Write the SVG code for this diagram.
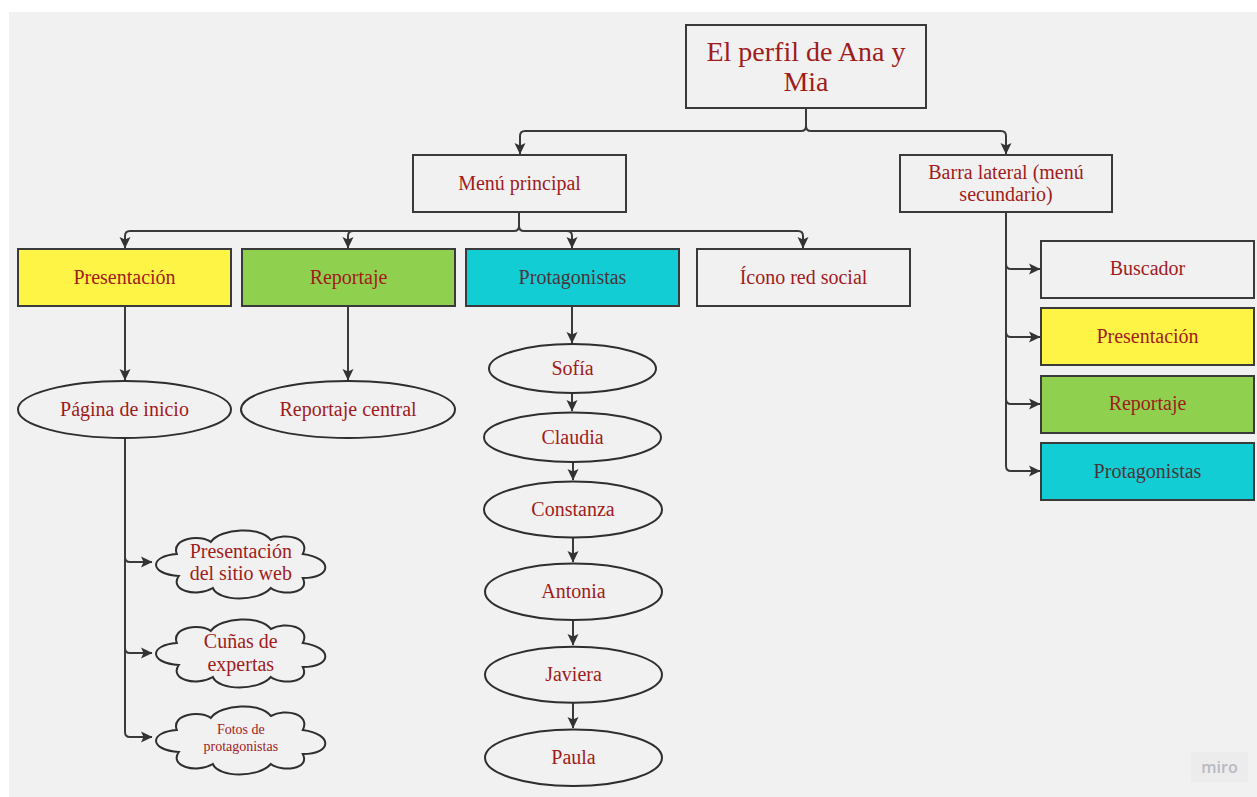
<svg xmlns="http://www.w3.org/2000/svg" width="1257" height="797" viewBox="0 0 1257 797">
<style>
.box{fill:none;stroke:#3a3a3a;stroke-width:2}
.yel{fill:#fef445;stroke:#3a3a3a;stroke-width:2}
.grn{fill:#8fd14f;stroke:#3a3a3a;stroke-width:2}
.cyn{fill:#12cdd4;stroke:#3a3a3a;stroke-width:2}
.ell{fill:#f1f1f1;stroke:#2e2e2e;stroke-width:2}
.t{font-family:Georgia,"Liberation Serif",serif;font-size:20px;fill:#a01c1c;text-anchor:middle}
.tc{fill:#4a3538}
.big{font-size:28px}
.sm{font-size:14px}
.con{fill:none;stroke:#3a3a3a;stroke-width:2;marker-end:url(#ah)}
.con2{fill:none;stroke:#3a3a3a;stroke-width:2}
</style>
<defs>
<marker id="ah" markerUnits="userSpaceOnUse" markerWidth="12" markerHeight="12" refX="11" refY="6" orient="auto" viewBox="0 0 12 12">
<path d="M0,0.5 L11.5,6 L0,11.5 L2.5,6 Z" fill="#333"/>
</marker>
<path id="cloud" d="M-64,-10 C-70,-26 -40,-30 -30,-22 C-20,-36 20,-38 30,-24 C45,-32 70,-26 62,-10 C92,-6 92,14 62,14 C70,30 40,32 30,24 C18,38 -22,38 -28,24 C-45,34 -72,26 -62,12 C-92,10 -92,-8 -64,-10 Z"/>
</defs>
<rect x="0" y="0" width="1257" height="797" fill="#ffffff"/>
<rect x="9" y="12" width="1248" height="785" fill="#f1f1f1"/>

<g id="connectors">
<path class="con2" d="M806,108 V126 Q806,131 801,131 H525 Q520,131 520,136 V154"/>
<path class="con" d="M520,136 V154"/>
<path class="con" d="M806,126 Q806,131 811,131 H1001 Q1006,131 1006,136 V154"/>
<path class="con" d="M519,212 V226 Q519,231 514,231 H130 Q125,231 125,236 V248"/>
<path class="con" d="M353,231 Q348,231 348,236 V248"/>
<path class="con" d="M519,226 Q519,231 524,231 H567 Q572,231 572,236 V248"/>
<path class="con" d="M567,231 H798 Q803,231 803,236 V248"/>
<path class="con" d="M125,307 V380"/>
<path class="con" d="M348,307 V380"/>
<path class="con" d="M572,307 V343"/>
<path class="con" d="M572,393 V411"/>
<path class="con" d="M573,462 V480"/>
<path class="con" d="M573,538 V562"/>
<path class="con" d="M573,620 V645"/>
<path class="con" d="M573,703 V728"/>
<path class="con" d="M125,438 V557 Q125,562 130,562 H152"/>
<path class="con" d="M125,557 V648 Q125,653 130,653 H152"/>
<path class="con" d="M125,648 V732 Q125,737 130,737 H152"/>
<path class="con" d="M1006,212 V264 Q1006,269 1011,269 H1040"/>
<path class="con" d="M1006,264 V332 Q1006,337 1011,337 H1040"/>
<path class="con" d="M1006,332 V399 Q1006,404 1011,404 H1040"/>
<path class="con" d="M1006,399 V466 Q1006,471 1011,471 H1040"/>
</g>

<g id="title"><rect class="box" x="686" y="25" width="240" height="83"/>
<text class="t big" x="806" y="61">El perfil de Ana y</text><text class="t big" x="806" y="91">Mia</text></g>

<g id="menu"><rect class="box" x="413" y="155" width="213" height="57"/><text class="t" x="519.5" y="190">Menú principal</text></g>
<g id="barra"><rect class="box" x="900" y="155" width="212" height="57"/><text class="t" x="1006" y="179">Barra lateral (menú</text><text class="t" x="1006" y="201">secundario)</text></g>

<g id="presentacion"><rect class="yel" x="18" y="249" width="213" height="57"/><text class="t" x="124.5" y="284">Presentación</text></g>
<g id="reportaje"><rect class="grn" x="242" y="249" width="213" height="57"/><text class="t" x="348.5" y="284">Reportaje</text></g>
<g id="protagonistas"><rect class="cyn" x="466" y="249" width="213" height="57"/><text class="t tc" x="572.5" y="284">Protagonistas</text></g>
<g id="icono"><rect class="box" x="697" y="249" width="213" height="57"/><text class="t" x="803.5" y="284">Ícono red social</text></g>

<g id="buscador"><rect class="box" x="1041" y="241" width="213" height="57"/><text class="t" x="1147.5" y="275">Buscador</text></g>
<g id="presentacion2"><rect class="yel" x="1041" y="308" width="213" height="57"/><text class="t" x="1147.5" y="343">Presentación</text></g>
<g id="reportaje2"><rect class="grn" x="1041" y="376" width="213" height="57"/><text class="t" x="1147.5" y="410">Reportaje</text></g>
<g id="protagonistas2"><rect class="cyn" x="1041" y="443" width="213" height="57"/><text class="t tc" x="1147.5" y="478">Protagonistas</text></g>

<g id="pagina"><ellipse class="ell" cx="124.5" cy="409.5" rx="106.5" ry="28.5"/><text class="t" x="124.5" y="416">Página de inicio</text></g>
<g id="reportajecentral"><ellipse class="ell" cx="348" cy="409.5" rx="107" ry="28.5"/><text class="t" x="348" y="416">Reportaje central</text></g>

<g id="sofia"><ellipse class="ell" cx="572.5" cy="368.5" rx="83.5" ry="24.5"/><text class="t" x="572.5" y="375">Sofía</text></g>
<g id="claudia"><ellipse class="ell" cx="572.5" cy="437.3" rx="88.5" ry="24.7"/><text class="t" x="572.5" y="444">Claudia</text></g>
<g id="constanza"><ellipse class="ell" cx="573" cy="509.5" rx="89" ry="28"/><text class="t" x="573" y="516">Constanza</text></g>
<g id="antonia"><ellipse class="ell" cx="573.5" cy="591.7" rx="88.5" ry="28.3"/><text class="t" x="573.5" y="598">Antonia</text></g>
<g id="javiera"><ellipse class="ell" cx="573.5" cy="674.7" rx="88.5" ry="28"/><text class="t" x="573.5" y="681">Javiera</text></g>
<g id="paula"><ellipse class="ell" cx="573.5" cy="757.7" rx="88.5" ry="28.3"/><text class="t" x="573.5" y="764">Paula</text></g>

<g id="cloud1"><use href="#cloud" transform="translate(240.8,564)" class="ell"/><text class="t" x="240.8" y="558">Presentación</text><text class="t" x="240.8" y="580">del sitio web</text></g>
<g id="cloud2"><use href="#cloud" transform="translate(240.8,653)" class="ell"/><text class="t" x="240.8" y="648">Cuñas de</text><text class="t" x="240.8" y="671">expertas</text></g>
<g id="cloud3"><use href="#cloud" transform="translate(240.8,740)" class="ell"/><text class="t sm" x="240.8" y="734">Fotos de</text><text class="t sm" x="240.8" y="751">protagonistas</text></g>

<g id="miro"><rect x="1191" y="752" width="57" height="30" fill="#ececec"/><text x="1219.5" y="773" font-family="'Open Sans',sans-serif" font-size="16" font-weight="600" fill="#b9b9c2" text-anchor="middle">miro</text></g>
</svg>
